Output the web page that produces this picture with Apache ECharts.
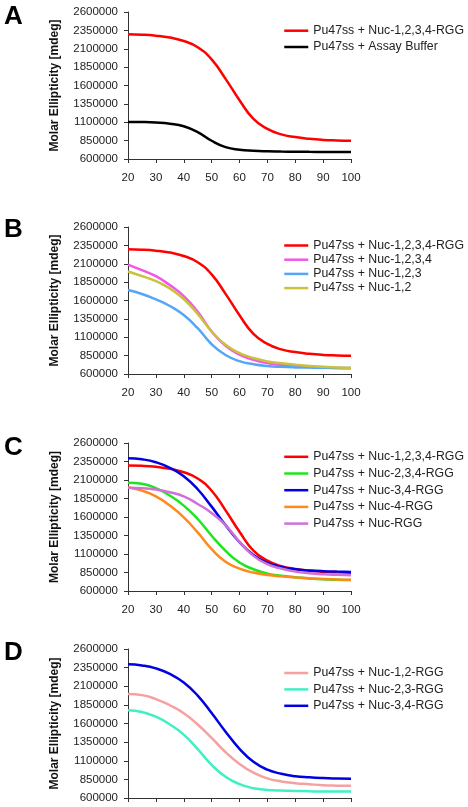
<!DOCTYPE html>
<html>
<head>
<meta charset="utf-8">
<script src="https://cdn.jsdelivr.net/npm/echarts@6/dist/echarts.min.js"></script>
<style>
html,body{margin:0;padding:0;background:#fff;}
#chart{width:468px;height:807px;}
</style>
</head>
<body>
<div id="chart"></div>
<script>
// ---- data ----
var temps = [20,25,30,35,40,45,50,55,60,65,70,75,80,85,90,95,100];
var xTicks = [20,30,40,50,60,70,80,90,100];
var yTicks = [600000,850000,1100000,1350000,1600000,1850000,2100000,2350000,2600000];

var nuc1234RGG = [2297000,2292000,2278000,2252000,2205000,2120000,1955000,1690000,1400000,1145000,1010000,935000,898000,875000,860000,852000,847000];
var assayBuffer = [1105000,1103000,1096000,1080000,1045000,965000,848000,762000,726000,711000,704000,701000,699000,697000,696000,695000,694000];

var nuc1234 = [2089000,2012000,1931000,1809000,1660000,1448000,1178000,984000,862000,794000,749000,722000,704000,694000,686000,680000,677000];
var nuc123 = [1742000,1688000,1615000,1525000,1403000,1223000,1005000,858000,775000,733000,709000,697000,690000,687000,685000,683000,681000];
var nuc12 = [1994000,1931000,1864000,1764000,1620000,1417000,1178000,997000,884000,817000,771000,745000,726000,710000,699000,690000,686000];

var nuc234RGG = [2062000,2048000,1989000,1890000,1754000,1573000,1347000,1143000,985000,894000,835000,805000,786000,770000,758000,752000,749000];
var nuc34RGG = [2395000,2380000,2340000,2265000,2150000,1975000,1740000,1490000,1260000,1085000,980000,925000,893000,878000,868000,862000,858000];
var nuc4RGG = [2003000,1957000,1880000,1754000,1595000,1392000,1166000,994000,903000,849000,817000,798000,784000,772000,762000,755000,752000];
var nucRGG = [1994000,1989000,1971000,1935000,1880000,1776000,1655000,1491000,1265000,1075000,962000,903000,862000,840000,826000,818000,813000];

var nuc12RGG = [1995000,1981000,1927000,1845000,1737000,1587000,1406000,1216000,1057000,940000,863000,822000,799000,785000,772000,766000,763000];
var nuc23RGG = [1778000,1755000,1691000,1587000,1451000,1257000,1044000,885000,786000,731000,709000,700000,695000,690000,686000,686000,686000];

var panelLetters = ['A','B','C','D'];
var yAxisTitle = 'Molar Ellipticity [mdeg]';

var panels = [
  [['Pu47ss + Nuc-1,2,3,4-RGG', nuc1234RGG, '#ff0000'],
   ['Pu47ss + Assay Buffer', assayBuffer, '#000000']],
  [['Pu47ss + Nuc-1,2,3,4-RGG', nuc1234RGG, '#ff0000'],
   ['Pu47ss + Nuc-1,2,3,4', nuc1234, '#f257e8'],
   ['Pu47ss + Nuc-1,2,3', nuc123, '#55a6f6'],
   ['Pu47ss + Nuc-1,2', nuc12, '#c9c23a']],
  [['Pu47ss + Nuc-1,2,3,4-RGG', nuc1234RGG, '#ff0000'],
   ['Pu47ss + Nuc-2,3,4-RGG', nuc234RGG, '#1ee61e'],
   ['Pu47ss + Nuc-3,4-RGG', nuc34RGG, '#0000e0'],
   ['Pu47ss + Nuc-4-RGG', nuc4RGG, '#ff8a1c'],
   ['Pu47ss + Nuc-RGG', nucRGG, '#d070d8']],
  [['Pu47ss + Nuc-1,2-RGG', nuc12RGG, '#f7a0a0'],
   ['Pu47ss + Nuc-2,3-RGG', nuc23RGG, '#40f0c4'],
   ['Pu47ss + Nuc-3,4-RGG', nuc34RGG, '#0000e0']]
];

// ---- layout ----
var FONT = '"Liberation Sans", Arial, sans-serif';
var gridTops = [12, 227, 443, 649];
var gridHeights = [147, 147, 148, 149];
var legendCenters = [30.7, 245.5, 456.8, 673];
var legendSpacing = [16.3, 14.2, 16.7, 16.4];
var letterY = [16.5, 230, 448, 653];
var showXLabels = [true, true, true, false];

var grids = [], xAxes = [], yAxes = [], series = [], legends = [], graphics = [];

panels.forEach(function (panel, i) {
  grids.push({left: 128, width: 223, top: gridTops[i], height: gridHeights[i], containLabel: false, outerBoundsMode: 'none'});
  xAxes.push({
    type: 'value', gridIndex: i, min: 20, max: 100, interval: 10,
    axisLine: {show: true, lineStyle: {color: '#333', width: 1}},
    axisTick: {show: true, inside: false, length: 4, lineStyle: {color: '#333'}, customValues: xTicks},
    axisLabel: {show: showXLabels[i], customValues: xTicks, margin: 13, fontSize: 11.5, color: '#222', fontFamily: FONT},
    splitLine: {show: false}
  });
  yAxes.push({
    type: 'value', gridIndex: i, min: 600000, max: 2600000,
    name: yAxisTitle, nameLocation: 'middle', nameGap: 67,
    nameTextStyle: {fontSize: 12, fontWeight: 'bold', color: '#111', fontFamily: FONT},
    axisLine: {show: true, lineStyle: {color: '#333', width: 1}},
    axisTick: {show: true, inside: false, length: 4, lineStyle: {color: '#333'}, customValues: yTicks},
    axisLabel: {customValues: yTicks, margin: 10, fontSize: 11.5, color: '#222', fontFamily: FONT,
      formatter: function (v) { return String(v); }},
    splitLine: {show: false}
  });
  panel.forEach(function (s) {
    series.push({
      type: 'line', name: s[0], xAxisIndex: i, yAxisIndex: i,
      data: temps.map(function (t, j) { return [t, s[1][j]]; }),
      smooth: 0.5, symbol: 'none', showSymbol: false,
      lineStyle: {color: s[2], width: 2.5},
      itemStyle: {color: s[2]},
      z: 2
    });
  });
  legends.push({
    orient: 'vertical', left: 283, top: legendCenters[i] - 6, padding: 0,
    itemWidth: 24, itemHeight: 2, itemGap: legendSpacing[i] - 12,
    selectedMode: false,
    itemStyle: {opacity: 0},
    data: panel.map(function (s) { return {name: s[0], lineStyle: {color: s[2], width: 2.5}}; }),
    textStyle: {fontSize: 12.3, color: '#222', fontFamily: FONT, lineHeight: 12}
  });
  graphics.push({
    type: 'text', left: 4, top: letterY[i] - 13,
    style: {text: panelLetters[i], font: 'bold 26px ' + FONT, fill: '#000'}
  });
});

var chart = echarts.init(document.getElementById('chart'), null, {renderer: 'canvas'});
chart.setOption({
  animation: false,
  backgroundColor: '#fff',
  grid: grids, xAxis: xAxes, yAxis: yAxes, series: series, legend: legends,
  graphic: graphics
});
</script>
</body>
</html>
